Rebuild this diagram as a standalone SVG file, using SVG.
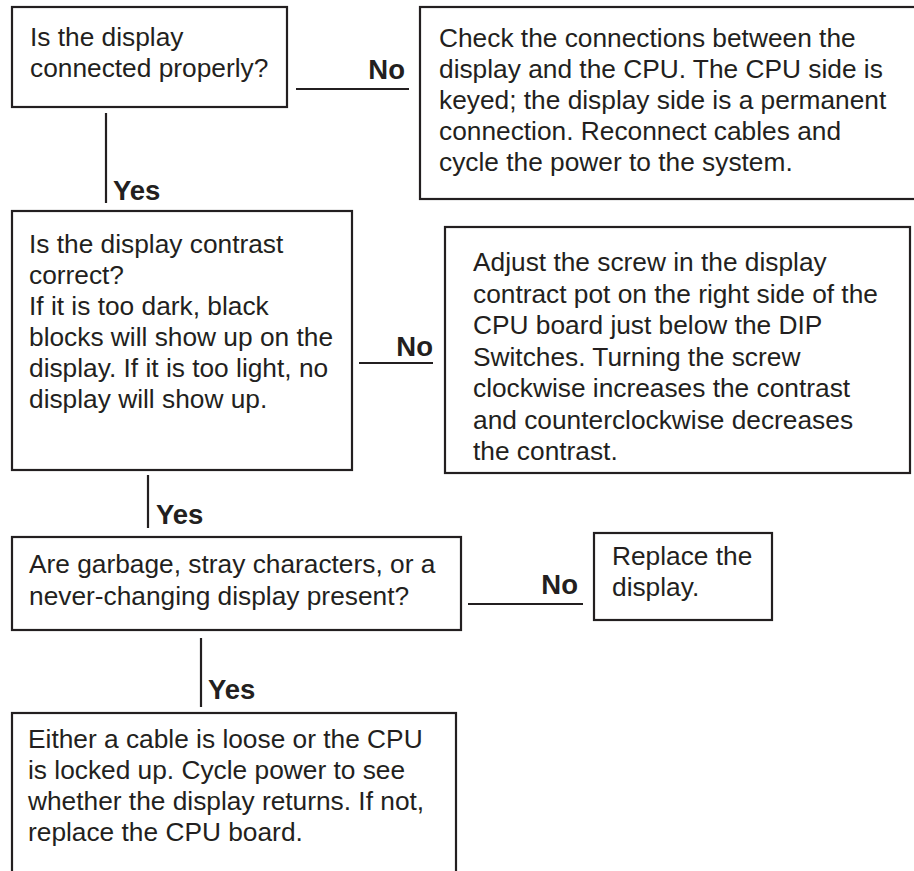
<svg xmlns="http://www.w3.org/2000/svg" width="914" height="871" viewBox="0 0 914 871">
<style>
.box{fill:#fff;stroke:#231f20;stroke-width:2.2}
.t{font-family:"Liberation Sans",Arial,sans-serif;font-size:26.3px;fill:#231f20}
.lbl{font-family:"Liberation Sans",Arial,sans-serif;font-size:27.5px;font-weight:bold;fill:#231f20}
.c{stroke:#231f20;stroke-width:2.2;fill:none}
</style>
<rect width="914" height="871" fill="#fff"/>
<g id="connectors">
<line class="c" x1="296" y1="89" x2="409" y2="89"/>
<text class="lbl" x="405" y="79" text-anchor="end">No</text>
<line class="c" x1="106" y1="113" x2="106" y2="203"/>
<text class="lbl" x="113" y="200">Yes</text>
<line class="c" x1="359" y1="363" x2="433" y2="363"/>
<text class="lbl" x="433" y="356" text-anchor="end">No</text>
<line class="c" x1="148" y1="475" x2="148" y2="528"/>
<text class="lbl" x="156" y="524">Yes</text>
<line class="c" x1="468" y1="604" x2="583" y2="604"/>
<text class="lbl" x="578" y="594" text-anchor="end">No</text>
<line class="c" x1="201" y1="638" x2="201" y2="707"/>
<text class="lbl" x="208" y="699">Yes</text>
</g>
<g id="n1">
<rect class="box" x="12" y="7" width="275" height="100"/>
<text class="t" x="30" y="46">Is the display</text>
<text class="t" x="30" y="77">connected properly?</text>
</g>
<g id="n2">
<rect class="box" x="420" y="7" width="500" height="192"/>
<text class="t" x="439" y="47">Check the connections between the</text>
<text class="t" x="439" y="78">display and the CPU. The CPU side is</text>
<text class="t" x="439" y="109">keyed; the display side is a permanent</text>
<text class="t" x="439" y="140">connection. Reconnect cables and</text>
<text class="t" x="439" y="171">cycle the power to the system.</text>
</g>
<g id="n3">
<rect class="box" x="12" y="211" width="340" height="259"/>
<text class="t" x="29" y="253">Is the display contrast</text>
<text class="t" x="29" y="284">correct?</text>
<text class="t" x="29" y="315">If it is too dark, black</text>
<text class="t" x="29" y="346">blocks will show up on the</text>
<text class="t" x="29" y="377">display. If it is too light, no</text>
<text class="t" x="29" y="408">display will show up.</text>
</g>
<g id="n4">
<rect class="box" x="445" y="227" width="465" height="246"/>
<text class="t" x="473" y="271">Adjust the screw in the display</text>
<text class="t" x="473" y="302.5">contract pot on the right side of the</text>
<text class="t" x="473" y="334">CPU board just below the DIP</text>
<text class="t" x="473" y="365.5">Switches. Turning the screw</text>
<text class="t" x="473" y="397">clockwise increases the contrast</text>
<text class="t" x="473" y="428.5">and counterclockwise decreases</text>
<text class="t" x="473" y="460">the contrast.</text>
</g>
<g id="n5">
<rect class="box" x="12" y="537" width="449" height="93"/>
<text class="t" x="29" y="573">Are garbage, stray characters, or a</text>
<text class="t" x="29" y="605">never-changing display present?</text>
</g>
<g id="n6">
<rect class="box" x="594" y="533" width="178" height="87"/>
<text class="t" x="612" y="565">Replace the</text>
<text class="t" x="612" y="596">display.</text>
</g>
<g id="n7">
<rect class="box" x="12" y="713" width="444" height="200"/>
<text class="t" x="28" y="748">Either a cable is loose or the CPU</text>
<text class="t" x="28" y="779">is locked up. Cycle power to see</text>
<text class="t" x="28" y="810">whether the display returns. If not,</text>
<text class="t" x="28" y="841">replace the CPU board.</text>
</g>
</svg>
